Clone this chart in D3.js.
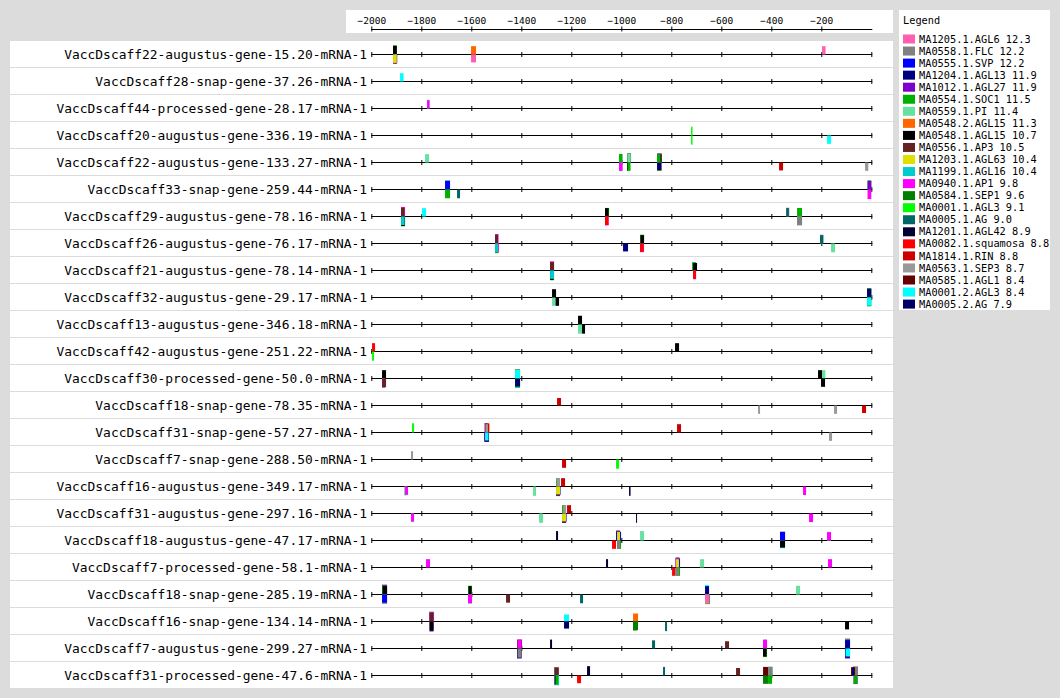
<!DOCTYPE html>
<html><head><meta charset="utf-8">
<script src="https://cdn.jsdelivr.net/npm/d3@7"></script>
<style>body{margin:0;background:#dcdcdc;}svg{display:block;}</style>
</head><body><svg id="c" width="1060" height="698"></svg>
<script>
const genes = [
"VaccDscaff22-augustus-gene-15.20-mRNA-1","VaccDscaff28-snap-gene-37.26-mRNA-1","VaccDscaff44-processed-gene-28.17-mRNA-1",
"VaccDscaff20-augustus-gene-336.19-mRNA-1","VaccDscaff22-augustus-gene-133.27-mRNA-1","VaccDscaff33-snap-gene-259.44-mRNA-1",
"VaccDscaff29-augustus-gene-78.16-mRNA-1","VaccDscaff26-augustus-gene-76.17-mRNA-1","VaccDscaff21-augustus-gene-78.14-mRNA-1",
"VaccDscaff32-augustus-gene-29.17-mRNA-1","VaccDscaff13-augustus-gene-346.18-mRNA-1","VaccDscaff42-augustus-gene-251.22-mRNA-1",
"VaccDscaff30-processed-gene-50.0-mRNA-1","VaccDscaff18-snap-gene-78.35-mRNA-1","VaccDscaff31-snap-gene-57.27-mRNA-1",
"VaccDscaff7-snap-gene-288.50-mRNA-1","VaccDscaff16-augustus-gene-349.17-mRNA-1","VaccDscaff31-augustus-gene-297.16-mRNA-1",
"VaccDscaff18-augustus-gene-47.17-mRNA-1","VaccDscaff7-processed-gene-58.1-mRNA-1","VaccDscaff18-snap-gene-285.19-mRNA-1",
"VaccDscaff16-snap-gene-134.14-mRNA-1","VaccDscaff7-augustus-gene-299.27-mRNA-1","VaccDscaff31-processed-gene-47.6-mRNA-1"];
const motifs = ["MA1205.1.AGL6 12.3","MA0558.1.FLC 12.2","MA0555.1.SVP 12.2","MA1204.1.AGL13 11.9","MA1012.1.AGL27 11.9",
"MA0554.1.SOC1 11.5","MA0559.1.PI 11.4","MA0548.2.AGL15 11.3","MA0548.1.AGL15 10.7","MA0556.1.AP3 10.5","MA1203.1.AGL63 10.4",
"MA1199.1.AGL16 10.4","MA0940.1.AP1 9.8","MA0584.1.SEP1 9.6","MA0001.1.AGL3 9.1","MA0005.1.AG 9.0","MA1201.1.AGL42 8.9",
"MA0082.1.squamosa 8.8","MA1814.1.RIN 8.8","MA0563.1.SEP3 8.7","MA0585.1.AGL1 8.4","MA0001.2.AGL3 8.4","MA0005.2.AG 7.9"];
const motifColors = ["#ff5fb2","#808080","#0000ff","#00007f","#7f00cc","#00b000","#66e29e","#ff6600","#000000","#662222","#e0e000",
"#00cccc","#ff00ff","#007f00","#00ff00","#006666","#000033","#ff0000","#cc0000","#999999","#660000","#00ffff","#000066"];
const axisTicks = [-2000,-1800,-1600,-1400,-1200,-1000,-800,-600,-400,-200];
const trackTicks = [-2000,-1800,-1600,-1400,-1200,-1000,-800,-600,-400,-200,0];
// sites: [gene row, motif, start, end, strand, score]
const sites = [
[0,5,-1913,-1898,1,11.2],[0,8,-1913,-1898,1,10.2],[0,2,-1913,-1897,-1,11],[0,17,-1912,-1897,-1,10.8],[0,1,-1908,-1896,-1,10.3],[0,10,-1913,-1899,-1,10],
[0,7,-1601,-1581,1,10],[0,0,-1601,-1581,-1,9.5],[0,0,-197,-183,1,10],
[1,21,-1885,-1871,1,10],
[2,6,-1777,-1767,1,10.5],[2,12,-1777,-1767,1,10],
[3,14,-721,-715,1,10.5],[3,14,-721,-715,-1,11],[3,21,-177,-161,-1,10],
[4,6,-1785,-1769,1,10],[4,5,-1009,-995,1,10.3],[4,6,-1009,-995,-1,10.5],[4,12,-1009,-995,-1,10],
[4,9,-977,-961,1,11],[4,6,-976,-962,1,10.6],[4,8,-977,-975,-1,10],[4,5,-975,-963,-1,10],
[4,4,-857,-839,1,11],[4,7,-843,-839,1,11],[4,5,-857,-841,1,10],[4,8,-843,-839,1,10],[4,10,-857,-839,-1,10.3],[4,3,-857,-839,-1,9.6],
[4,18,-369,-353,-1,9.5],[4,19,-25,-12,-1,10],
[5,6,-1705,-1685,1,11],[5,2,-1705,-1685,1,10.5],[5,5,-1705,-1685,-1,10.5],[5,15,-1657,-1645,-1,10.5],
[5,5,-15,0,1,11],[5,4,-15,0,1,10.3],[5,12,-15,0,-1,11.5],
[6,12,-1881,-1865,1,11.5],[6,9,-1881,-1867,1,10.6],[6,4,-1869,-1865,-1,10.5],[6,5,-1881,-1865,-1,11.8],[6,8,-1881,-1867,-1,11.3],[6,11,-1881,-1867,-1,10.2],
[6,21,-1797,-1781,1,10],[6,5,-1065,-1049,1,10.3],[6,8,-1065,-1051,1,10],[6,12,-1065,-1051,-1,10.7],[6,17,-1065,-1051,-1,10.2],
[6,1,-341,-328,1,10.5],[6,15,-340,-330,1,10],[6,5,-297,-277,1,10.2],[6,6,-297,-277,-1,10.7],[6,1,-297,-277,-1,10.4],
[7,12,-1505,-1491,1,11.3],[7,9,-1505,-1493,1,10.6],[7,5,-1505,-1491,-1,11.6],[7,12,-1494,-1491,-1,10.5],[7,11,-1505,-1493,-1,10.2],
[7,3,-993,-973,-1,9.5],[7,4,-925,-921,1,10.3],[7,5,-925,-909,1,10.5],[7,8,-923,-909,1,10],[7,12,-925,-909,-1,10.4],[7,17,-925,-911,-1,10],
[7,1,-205,-192,1,10.5],[7,15,-205,-192,1,10],[7,6,-161,-145,-1,10.5],
[8,12,-1285,-1269,1,11],[8,9,-1285,-1269,1,10.2],[8,5,-1285,-1269,-1,11.7],[8,8,-1285,-1271,-1,11.3],[8,11,-1285,-1269,-1,10],
[8,5,-717,-701,1,10],[8,8,-713,-697,1,9],[8,12,-713,-701,-1,10.5],[8,17,-713,-701,-1,10],
[9,8,-1277,-1261,1,10],[9,6,-1277,-1263,-1,10],[9,8,-1263,-1249,-1,10],
[9,10,-17,0,1,11.3],[9,5,-17,0,1,11],[9,3,-17,0,1,10.6],[9,13,-17,0,-1,10.5],[9,21,-17,0,-1,9.8],
[10,8,-1173,-1157,1,10.5],[10,6,-1173,-1157,-1,11],[10,8,-1157,-1145,-1,11],
[11,17,-1997,-1985,1,10],[11,14,-1997,-1989,-1,11],[11,8,-785,-769,1,10],
[12,8,-1957,-1941,1,10],[12,6,-1957,-1945,-1,11.2],[12,12,-1957,-1945,-1,10.8],[12,9,-1957,-1941,-1,10.4],
[12,13,-1425,-1405,1,11],[12,21,-1425,-1405,1,10.3],[12,10,-1425,-1407,-1,11.5],[12,5,-1425,-1405,-1,11.1],[12,21,-1425,-1405,-1,10.6],[12,22,-1425,-1405,-1,9.8],
[12,8,-213,-197,1,10],[12,6,-197,-184,1,10],[12,8,-201,-185,-1,10],
[13,18,-1257,-1241,1,9],[13,19,-453,-445,-1,10],[13,19,-149,-137,-1,10],[13,18,-37,-21,-1,9],
[14,14,-1837,-1829,1,11],[14,4,-1547,-1531,1,11.4],[14,7,-1545,-1527,1,10.8],[14,18,-1545,-1529,1,10.4],[14,19,-1543,-1533,1,10],
[14,12,-1549,-1533,-1,11],[14,22,-1547,-1529,-1,11.2],[14,21,-1545,-1531,-1,9.6],[14,18,-777,-761,1,10],[14,19,-169,-157,-1,10],
[15,19,-1841,-1833,1,10],[15,18,-1237,-1221,-1,10],[15,14,-1021,-1009,-1,11],
[16,6,-1869,-1857,-1,10.7],[16,12,-1865,-1853,-1,10],[16,6,-1353,-1341,-1,11.2],
[16,5,-1261,-1247,1,10],[16,19,-1259,-1245,1,10],[16,18,-1241,-1225,1,10],[16,9,-1261,-1245,-1,11.5],[16,2,-1261,-1243,-1,10],[16,10,-1261,-1245,-1,9.5],
[16,16,-969,-963,-1,11.2],[16,12,-273,-261,-1,10.3],
[17,6,-1841,-1829,-1,10.3],[17,12,-1841,-1829,-1,9.6],[17,6,-1329,-1313,-1,11.2],
[17,5,-1237,-1221,1,10],[17,19,-1233,-1221,1,10],[17,18,-1217,-1201,1,10],[17,9,-1237,-1221,-1,11.4],[17,2,-1237,-1219,-1,10],[17,10,-1237,-1221,-1,9.5],
[17,16,-941,-937,-1,11.2],[17,12,-249,-233,-1,10.3],
[18,16,-1261,-1253,1,11.3],[18,9,-1021,-1005,1,12],[18,12,-1021,-1005,1,10.9],[18,2,-1021,-1001,1,10.5],[18,10,-1017,-1005,1,10.2],
[18,17,-1037,-1021,-1,10],[18,5,-1017,-1001,-1,10],[18,1,-1017,-1005,-1,10],[18,6,-925,-909,1,11.3],
[18,9,-365,-345,1,10.6],[18,2,-365,-345,1,10.2],[18,21,-365,-345,-1,9.3],[18,8,-365,-345,-1,8.5],[18,6,-177,-161,1,10.5],[18,12,-177,-161,1,10],
[19,12,-1781,-1765,1,10],[19,16,-1061,-1053,1,10],
[19,9,-783,-767,1,12],[19,12,-783,-767,1,11],[19,2,-781,-765,1,10.4],[19,10,-781,-769,1,10],
[19,17,-797,-785,-1,10],[19,8,-783,-781,-1,10],[19,5,-781,-765,-1,10],[19,1,-781,-769,-1,10],
[19,6,-685,-669,1,10],[19,12,-173,-157,1,10],
[20,4,-1957,-1937,1,11.8],[20,5,-1957,-1937,1,10.5],[20,8,-1955,-1937,1,10],[20,1,-1957,-1937,-1,11.2],[20,2,-1957,-1937,-1,9.8],
[20,5,-1613,-1597,1,10.5],[20,8,-1611,-1599,1,10],[20,6,-1613,-1597,-1,11],[20,12,-1613,-1597,-1,10.5],
[20,9,-1461,-1445,-1,9.8],[20,15,-1165,-1153,-1,10.5],
[20,21,-665,-649,1,11.5],[20,3,-665,-649,1,10],[20,1,-653,-645,-1,11.5],[20,2,-665,-649,-1,11.5],[20,10,-665,-649,-1,11],[20,0,-665,-649,-1,10],
[20,6,-301,-285,1,10.5],
[21,1,-1769,-1749,1,11.8],[21,12,-1767,-1751,1,11.2],[21,9,-1767,-1751,1,10.7],[21,4,-1767,-1751,-1,12],[21,8,-1767,-1751,-1,11],
[21,21,-1229,-1209,1,8.5],[21,22,-1229,-1209,-1,8.5],[21,7,-953,-933,1,9.6],[21,9,-953,-937,-1,10.7],[21,13,-953,-933,-1,10.3],
[21,15,-825,-817,-1,11.5],[21,8,-105,-89,-1,9.5],
[22,9,-1417,-1397,1,10.7],[22,12,-1415,-1399,1,10.7],[22,4,-1417,-1399,-1,12],[22,22,-1417,-1399,-1,11.5],[22,1,-1415,-1399,-1,11],
[22,16,-1285,-1277,1,10.7],[22,15,-877,-865,1,9.8],[22,9,-585,-569,1,8.7],
[22,6,-433,-417,1,10.9],[22,12,-433,-417,1,10.5],[22,5,-433,-417,-1,10.3],[22,8,-433,-419,-1,9.6],
[22,1,-105,-85,1,12],[22,2,-105,-85,1,10.4],[22,3,-103,-87,1,9],[22,4,-105,-85,-1,12],[22,3,-105,-87,-1,11],[22,21,-103,-85,-1,9.6],
[23,1,-1269,-1249,1,10],[23,9,-1267,-1251,1,9.6],[23,4,-1267,-1249,-1,11.6],[23,21,-1267,-1249,-1,11.2],[23,5,-1265,-1251,-1,10.8],[23,8,-1267,-1265,-1,10.8],
[23,17,-1177,-1161,-1,9.2],[23,16,-1137,-1125,1,11.2],[23,15,-833,-825,1,10.3],[23,9,-541,-525,1,9],
[23,20,-433,-413,1,10.3],[23,13,-433,-413,-1,10],[23,6,-413,-395,1,10.8],[23,1,-413,-395,1,10.3],[23,5,-413,-397,-1,10],
[23,1,-73,-53,1,11],[23,20,-81,-65,1,10],[23,3,-77,-69,1,9.6],[23,4,-71,-55,-1,10.3],[23,5,-71,-55,-1,10]
];

const svg = d3.select("#c");
const x = d3.scaleLinear().domain([-2000,0]).range([371.3,871.3]);
const h = d3.scaleLinear().domain([0,12]).range([0,10]);
const rowH = 27, top0 = 41;
const yLine = i => top0 + i*rowH + 13.5;   // center of 1px track line

// top axis panel
svg.append("rect").attr("x",346).attr("y",10).attr("width",547).attr("height",23).attr("fill","#fff");
const ax = svg.append("g").attr("transform","translate(0,29.5)")
  .call(d3.axisTop(x).tickValues(axisTicks).tickSize(3).tickSizeOuter(0).tickFormat(d3.format("d")));
ax.select(".domain").attr("d","M"+x(-2000)+",0H"+(x(0)+1)).attr("stroke","#000");
ax.selectAll(".tick line").attr("y1",2).attr("y2",-3).attr("stroke","#000");
ax.selectAll(".tick text").attr("font-family","DejaVu Sans Mono").attr("font-size","9.5px").attr("fill","#000").attr("y",-6);

// main panel rows
genes.forEach((g,i)=>{
  svg.append("rect").attr("x",10).attr("y",top0+i*rowH).attr("width",883).attr("height",rowH-1).attr("fill","#fff");
});
genes.forEach((g,i)=>{
  const yl = yLine(i);
  svg.append("text").attr("x",367).attr("y",yl).attr("dy","0.35em").attr("text-anchor","end")
    .attr("font-family","DejaVu Sans Mono").attr("font-size","12.9px").attr("fill","#000").text(g);
  const tg = svg.append("g").attr("transform","translate(0,"+yl+")")
    .call(d3.axisBottom(x).tickValues(trackTicks).tickSize(0).tickSizeOuter(0).tickFormat(""));
  tg.select(".domain").attr("d","M"+x(-2000)+",0H"+(x(0)+1)).attr("stroke","#000");
  tg.selectAll(".tick line").attr("y1",-2.5).attr("y2",2.5).attr("stroke","#000");
});
svg.append("g").selectAll("rect").data(sites).join("rect")
  .attr("x",d=>x(d[2]))
  .attr("width",d=>Math.max(1,x(d[3])-x(d[2])))
  .attr("y",d=>{const yl=yLine(d[0]); return d[4]>0 ? yl-h(d[5]) : yl;})
  .attr("height",d=>h(d[5]))
  .attr("fill",d=>motifColors[d[1]]);

// legend
svg.append("rect").attr("x",899).attr("y",10).attr("width",151).attr("height",300).attr("fill","#fff");
svg.append("text").attr("x",903).attr("y",24).attr("font-family","DejaVu Sans Mono").attr("font-size","10.3px").text("Legend");
const lg = svg.append("g").selectAll("g").data(motifs).join("g")
  .attr("transform",(d,i)=>"translate(903,"+(39+i*12.05)+")");
lg.append("rect").attr("x",0).attr("y",-4.5).attr("width",12).attr("height",9).attr("fill",(d,i)=>motifColors[i]);
lg.append("text").attr("x",16).attr("y",0).attr("dy","0.35em").attr("font-family","DejaVu Sans Mono").attr("font-size","10.3px").text(d=>d);
</script></body></html>
